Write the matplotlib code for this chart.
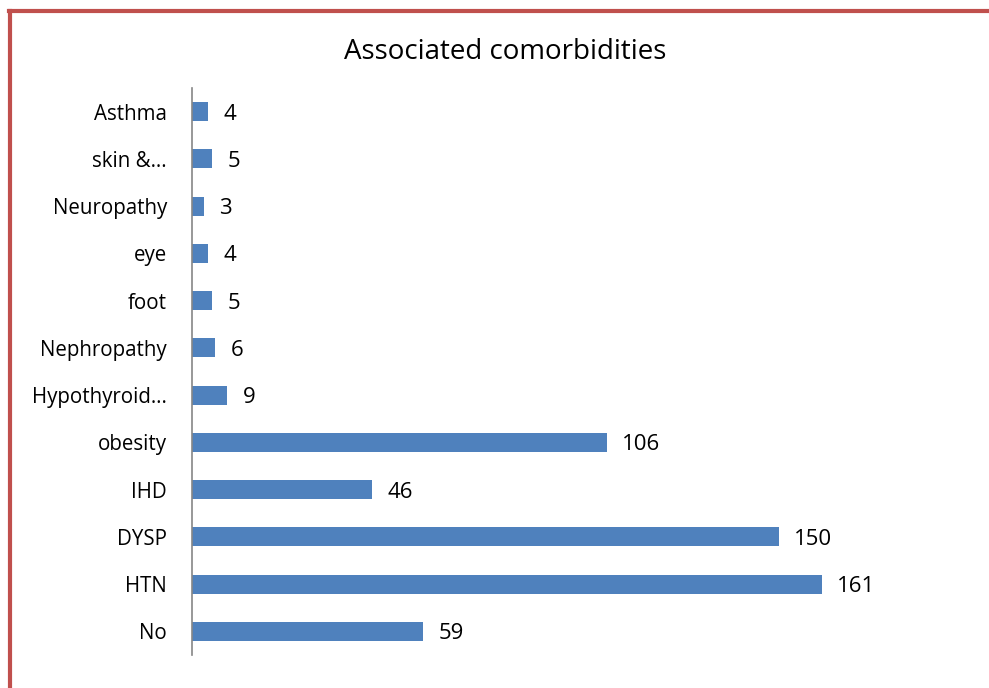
import matplotlib.pyplot as plt
from matplotlib.lines import Line2D

categories = ["No", "HTN", "DYSP", "IHD", "obesity", "Hypothyroid…", "Nephropathy",
              "foot", "eye", "Neuropathy", "skin &…", "Asthma"]
values = [59, 161, 150, 46, 106, 9, 6, 5, 4, 3, 5, 4]

plt.rcParams['font.family'] = ['Open Sans', 'DejaVu Sans']

fig = plt.figure(figsize=(9.89, 6.88), dpi=100)
ax = fig.add_axes([192 / 989, 1 - 655 / 688, (896 - 192) / 989, (655 - 88) / 688])

y = range(len(categories))
ax.barh(y, values, height=0.4, color='#4F81BD')
for i, v in zip(y, values):
    ax.text(v + 4, i, str(v), va='center_baseline', ha='left', fontsize=16, color='black')

ax.set_xlim(0, 180)
ax.set_ylim(-0.5, len(categories) - 0.5)
ax.set_yticks(list(y))
ax.set_yticklabels(categories, fontsize=14.8, va='center_baseline')
ax.tick_params(axis='y', length=0, pad=18)
ax.set_xticks([])
for s in ['top', 'right', 'bottom']:
    ax.spines[s].set_visible(False)
ax.spines['left'].set_color('#868686')
ax.spines['left'].set_linewidth(1.2)

fig.text(505 / 989, 1 - 52 / 688, "Associated comorbidities", ha='center', va='center', fontsize=20)

# red frame around the chart area
fig.add_artist(Line2D([10 / 989, 10 / 989], [0, 1 - 11 / 688], color='#C0504D', lw=3,
                      transform=fig.transFigure))
fig.add_artist(Line2D([8.5 / 989, 1], [1 - 11 / 688, 1 - 11 / 688], color='#C0504D', lw=3,
                      transform=fig.transFigure))

fig.savefig('out.png', dpi=100)
